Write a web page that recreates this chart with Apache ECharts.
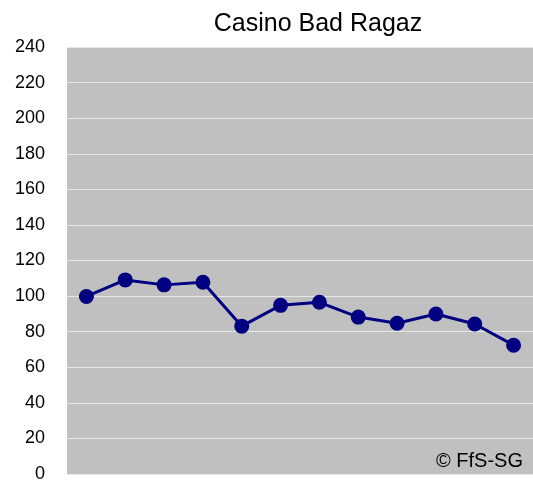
<!DOCTYPE html>
<html>
<head>
<meta charset="utf-8">
<script src="https://cdn.jsdelivr.net/npm/echarts@6/dist/echarts.min.js"></script>
<style>
  html, body { margin: 0; padding: 0; background: #fff; }
  #chart { width: 533px; height: 483px; }
</style>
</head>
<body>
<div id="chart"></div>
<script>
// data
const categories = ['1', '2', '3', '4', '5', '6', '7', '8', '9', '10', '11', '12'];
const values = [99.8, 109.1, 106.3, 107.8, 83.1, 94.8, 96.5, 88.2, 84.7, 89.9, 84.3, 72.4];
const yTicks = [0, 20, 40, 60, 80, 100, 120, 140, 160, 180, 200, 220, 240];

const chart = echarts.init(document.getElementById('chart'));

const option = {
  backgroundColor: '#ffffff',
  textStyle: { fontFamily: 'Liberation Sans, Arial, sans-serif' },
  title: {
    text: 'Casino Bad Ragaz',
    left: 313,
    textAlign: 'center',
    top: 7,
    textStyle: {
      fontFamily: 'Liberation Sans, Arial, sans-serif',
      fontSize: 25,
      fontWeight: 'normal',
      color: '#000'
    }
  },
  grid: {
    left: 67,
    width: 469,
    top: 47,
    height: 430,
    show: true,
    backgroundColor: '#c0c0c0',
    borderWidth: 0
  },
  xAxis: {
    type: 'category',
    data: categories,
    boundaryGap: true,
    axisLine: { show: false },
    axisTick: { show: false },
    axisLabel: { show: false },
    splitLine: { show: false }
  },
  yAxis: {
    type: 'value',
    min: yTicks[0],
    max: yTicks[yTicks.length - 1],
    interval: 20,
    axisLine: { show: false },
    axisTick: { show: false },
    axisLabel: {
      color: '#000',
      fontSize: 18,
      margin: 22,
      fontFamily: 'Liberation Sans, Arial, sans-serif'
    },
    splitLine: {
      lineStyle: { color: '#e6e6e6', width: 1 }
    }
  },
  series: [{
    type: 'line',
    data: values,
    symbol: 'circle',
    symbolSize: 15,
    lineStyle: { color: '#000080', width: 3 },
    itemStyle: { color: '#000080' },
    animation: false
  }],
  graphic: [{
    type: 'text',
    right: 10,
    top: 451,
    style: {
      text: '© FfS-SG',
      fontSize: 20,
      fontFamily: 'Liberation Sans, Arial, sans-serif',
      fill: '#000'
    }
  }],
  animation: false
};

chart.setOption(option);
</script>
</body>
</html>
